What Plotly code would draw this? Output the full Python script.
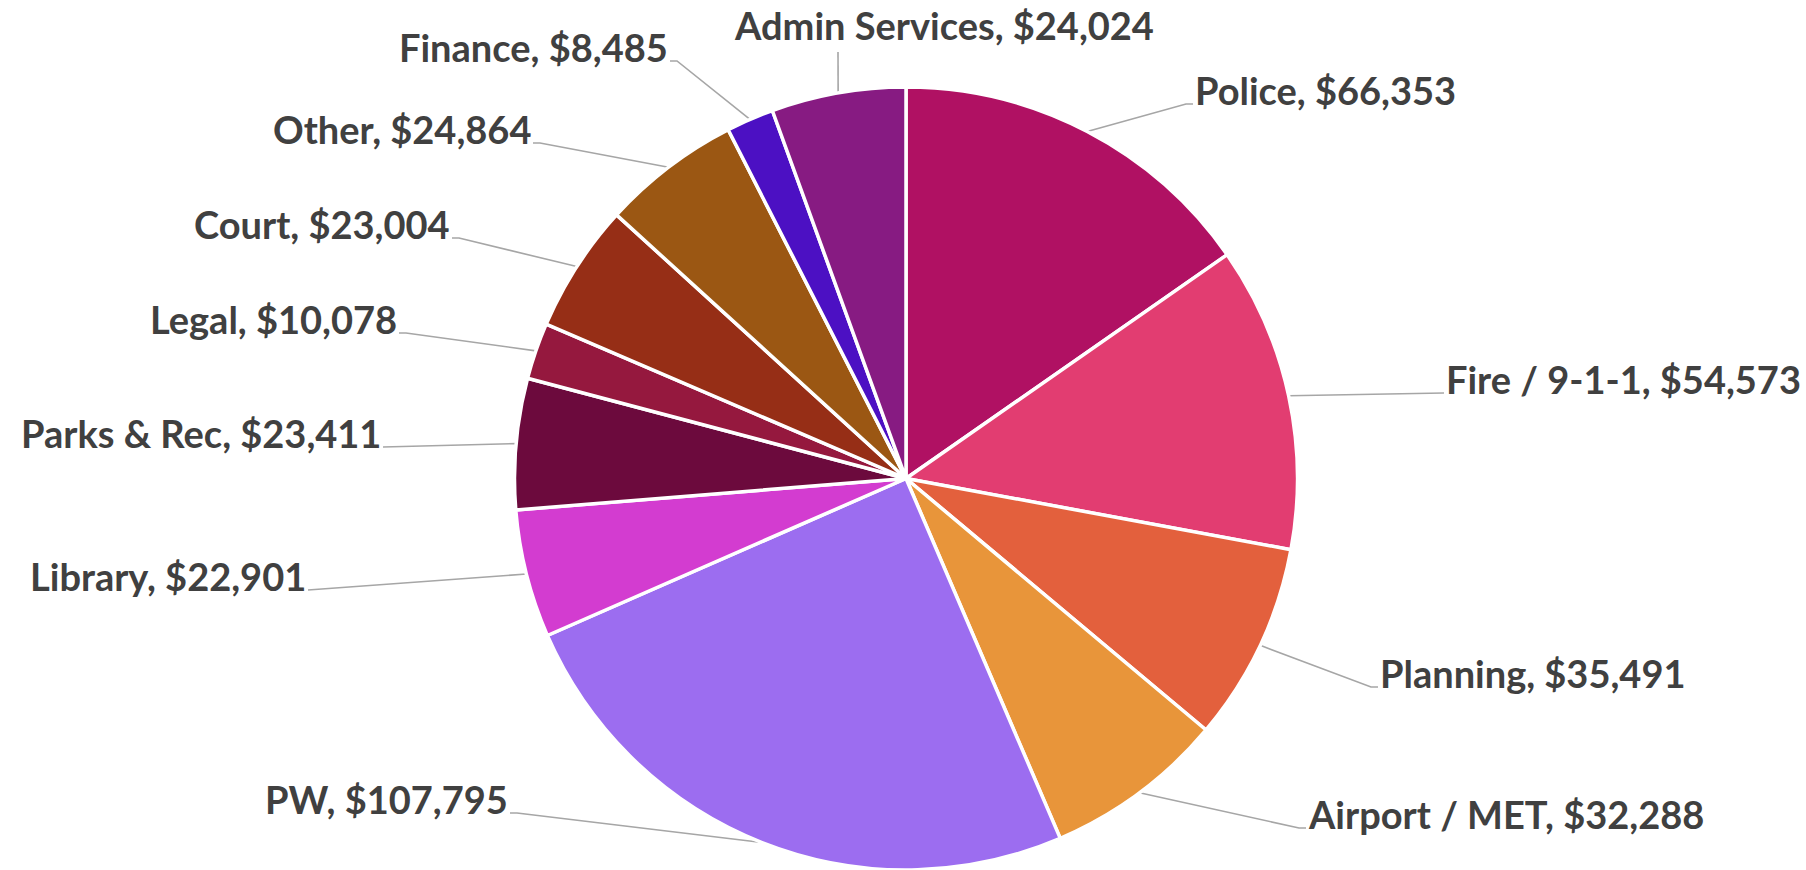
import math
import plotly.graph_objects as go

# ---- data ----
departments = ["Police", "Fire / 9-1-1", "Planning", "Airport / MET", "PW", "Library",
               "Parks & Rec", "Legal", "Court", "Other", "Finance", "Admin Services"]
amounts = [66353, 54573, 35491, 32288, 107795, 22901, 23411, 10078, 23004, 24864, 8485, 24024]
colors = ["#B01163", "#E23D71", "#E3603D", "#E8953A", "#9C6DF0", "#D33CD0",
          "#6C0A3D", "#95183E", "#962E16", "#9B5713", "#4C10C3", "#871B82"]

# ---- layout (pixel space) ----
W, H = 1806, 870
CX, CY, R = 906, 478.5, 391.5
# leader-line elbow points (label anchors), per label
elbow_x = [1186, 1437, 1371, 1299, 517, 315, 390, 406, 459, 540, 677, 838]
elbow_y = [104, 393, 687, 828, 813, 590, 447, 333, 238, 143, 61, 52]
label_side = ["right", "right", "right", "right", "left", "left",
              "left", "left", "left", "left", "left", "top"]

total = sum(amounts)
fig = go.Figure()

# leader lines computed from slice mid-angles
lx, ly = [], []
cum = 0
for i, v in enumerate(amounts):
    mid = (cum + v / 2) / total * 2 * math.pi
    cum += v
    px = CX + R * math.sin(mid)
    py = CY - R * math.cos(mid)
    side = label_side[i]
    ex, ey = elbow_x[i], elbow_y[i]
    if side == "right":
        lx += [px, ex, ex + 7, None]
        ly += [py, ey, ey, None]
    elif side == "left":
        lx += [px, ex, ex - 7, None]
        ly += [py, ey, ey, None]
    else:
        lx += [px, ex, None]
        ly += [py, ey, None]

fig.add_trace(go.Scatter(x=lx, y=ly, mode="lines",
                         line=dict(color="#A6A6A6", width=1.6),
                         hoverinfo="skip", showlegend=False))

fig.add_trace(go.Pie(
    labels=departments, values=amounts, sort=False, direction="clockwise",
    rotation=0, textinfo="none",
    marker=dict(colors=colors, line=dict(color="#FFFFFF", width=3.5)),
    domain=dict(x=[(CX - R) / W, (CX + R) / W], y=[(H - CY - R) / H, (H - CY + R) / H]),
    showlegend=False,
))

FONT = dict(family="Lato, sans-serif", size=38, color="#404040")
annotations = []
for i, name in enumerate(departments):
    txt = "<b>%s, $%s</b>" % (name, f"{amounts[i]:,}")
    side = label_side[i]
    ex, ey = elbow_x[i], elbow_y[i]
    if side == "right":
        annotations.append(dict(x=ex + 7, y=ey - 14, text=txt, xanchor="left", yanchor="middle"))
    elif side == "left":
        annotations.append(dict(x=ex - 7, y=ey - 14, text=txt, xanchor="right", yanchor="middle"))
    else:
        annotations.append(dict(x=944, y=25, text=txt, xanchor="center", yanchor="middle"))
for a in annotations:
    a.update(xref="x", yref="y", showarrow=False, font=FONT)

fig.update_layout(
    width=W, height=H,
    margin=dict(l=0, r=0, t=0, b=0),
    paper_bgcolor="white", plot_bgcolor="white",
    xaxis=dict(range=[0, W], visible=False, fixedrange=True),
    yaxis=dict(range=[H, 0], visible=False, fixedrange=True),
    annotations=annotations,
)

fig.write_html("out.html",
               config={"displayModeBar": False},
               post_script="document.body.style.margin='0';document.body.style.overflow='hidden';")
